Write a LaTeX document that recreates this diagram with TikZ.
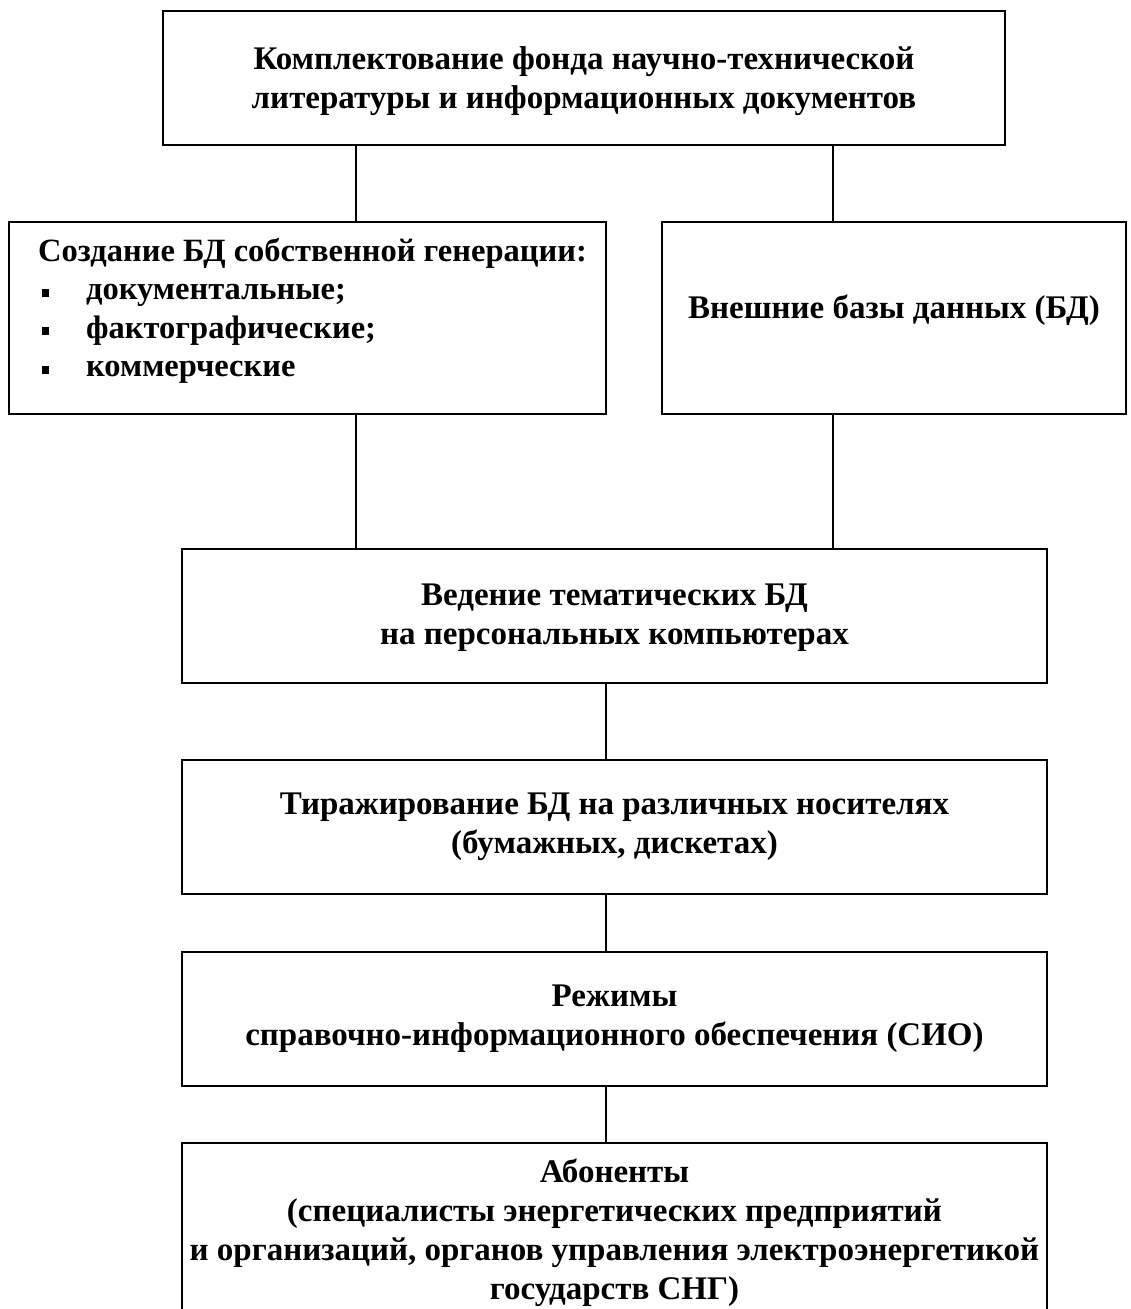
\documentclass[tikz,border=0pt]{standalone}
\usepackage{fontspec}
\setmainfont{Liberation Serif}
\usetikzlibrary{positioning,calc}
\tikzstyle{block}  =[draw, line width=1.8pt, minimum height=134pt,
                     inner sep=0pt, outer sep=0pt]
\tikzstyle{caption}=[align=center, inner sep=0pt,
                     font=\fontsize{33}{39}\selectfont\bfseries]
\tikzstyle{edge}   =[line width=1.8pt]
\newcommand{\punkt}{\makebox[48pt][l]{\hspace{4pt}\rule[3pt]{7pt}{8pt}}}

\begin{document}
\begin{tikzpicture}[x=1pt,y=-1pt]
    \useasboundingbox (0,0) rectangle (1130,1309);

    \node (komp) [block, minimum width=842pt] at (584,78) {};
    \node (sozd) [block, minimum width=597pt, minimum height=192pt] at (307.5,318) {};
    \node (vnesh) [block, minimum width=464pt, minimum height=192pt] at (894,318) {};
    \foreach \n/\y in {vedenie/616, tiraz/827, rezhim/1019}
        \node (\n) [block, minimum width=865pt] at (614.5,\y) {};
    \node (abon) [block, minimum width=865pt, minimum height=200pt,
        anchor=north] at (614.5,1143) {};

    \node (komptxt) [caption] at ($(komp.center)+(0,3)$)
        {Комплектование фонда научно-технической\\литературы и информационных документов};
    \node (sozdtxt) [caption, align=left, anchor=west,
        font=\fontsize{32.5}{38.5}\selectfont\bfseries] at ($(sozd.west)+(29,-7)$)
        {Создание БД собственной генерации:\\\punkt документальные;\\
         \punkt фактографические;\\\punkt коммерческие};
    \node (vneshtxt) [caption] at ($(vnesh.center)+(0,-8)$) {Внешние базы данных (БД)};
    \node (vedenietxt) [caption] at ($(vedenie.center)+(0,2)$)
        {Ведение тематических БД\\на персональных компьютерах};
    \node (tiraztxt) [caption] at (tiraz.center)
        {Тиражирование БД на различных носителях\\(бумажных, дискетах)};
    \node (rezhimtxt) [caption] at (rezhim.center)
        {Режимы\\справочно-информационного обеспечения (СИО)};
    \node (abontxt) [caption, anchor=north] at ($(abon.north)+(0,16)$)
        {Абоненты\\(специалисты энергетических предприятий\\
         и организаций, органов управления электроэнергетикой\\государств СНГ)};

    \coordinate (lcol) at (356,0);
    \coordinate (rcol) at (833,0);
    \coordinate (mcol) at (606,0);

    \foreach \a/\b in {komp/sozd, sozd/vedenie}
        \draw [edge] (\a.south -| lcol) -- (\b.north -| lcol);
    \foreach \a/\b in {komp/vnesh, vnesh/vedenie}
        \draw [edge] (\a.south -| rcol) -- (\b.north -| rcol);
    \foreach \a/\b in {vedenie/tiraz, tiraz/rezhim, rezhim/abon}
        \draw [edge] (\a.south -| mcol) -- (\b.north -| mcol);
\end{tikzpicture}
\end{document}
